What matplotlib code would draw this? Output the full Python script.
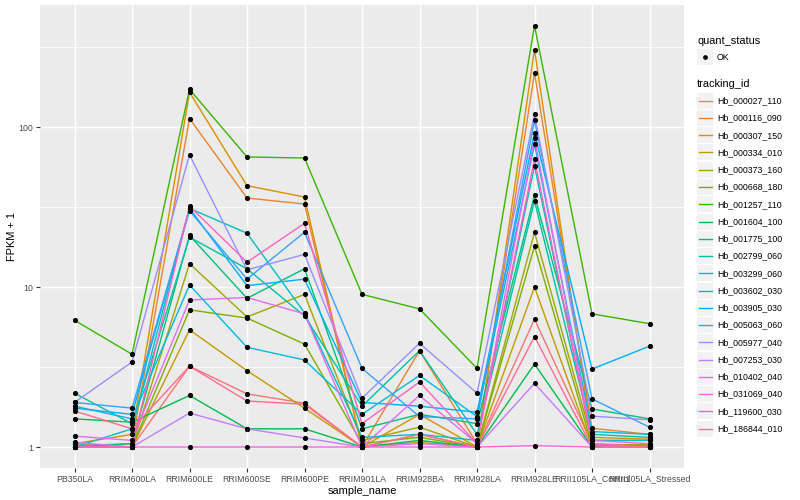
"""FPKM + 1 per sample for a set of tracked genes, ggplot-style line chart."""

import numpy as np
import matplotlib.pyplot as plt
from matplotlib.patches import Rectangle
from matplotlib.lines import Line2D

plt.rcParams["font.family"] = ["Liberation Sans", "DejaVu Sans"]

W, H = 800, 500
PANEL_BG = "#EBEBEB"
KEY_BG = "#F2F2F2"

samples = ["PB350LA", "RRIM600LA", "RRIM600LE", "RRIM600SE", "RRIM600PE",
           "RRIM901LA", "RRIM928BA", "RRIM928LA", "RRIM928LE",
           "RRII105LA_Control", "RRII105LA_Stressed"]

tracking_ids = ["Hb_000027_110", "Hb_000116_090", "Hb_000307_150", "Hb_000334_010",
                "Hb_000373_160", "Hb_000668_180", "Hb_001257_110", "Hb_001604_100",
                "Hb_001775_100", "Hb_002799_060", "Hb_003299_060", "Hb_003602_030",
                "Hb_003905_030", "Hb_005063_060", "Hb_005977_040", "Hb_007253_030",
                "Hb_010402_040", "Hb_031069_040", "Hb_119600_030", "Hb_186844_010"]

# ggplot default hue palette for 20 levels
colours = ["#F8766D", "#EA8331", "#D89000", "#C09B00", "#A3A500", "#7CAE00", "#39B600",
           "#00BB4E", "#00BF7D", "#00C1A3", "#00BFC4", "#00BAE0", "#00B0F6", "#35A2FF",
           "#9590FF", "#C77CFF", "#E76BF3", "#FA62DB", "#FF62BC", "#FF6C91"]

# FPKM + 1, one row per tracking_id, one column per sample
fpkm_plus_one = [
    [1.05, 1.00, 3.2, 2.15, 1.88, 1.00, 1.20, 1.00, 6.3, 1.05, 1.02],
    [1.02, 1.05, 113, 36.0, 33.0, 1.00, 4.00, 1.05, 218, 1.31, 1.20],
    [1.05, 1.20, 165, 43.0, 36.5, 1.00, 1.60, 1.00, 305, 1.15, 1.12],
    [1.00, 1.00, 5.4, 3.00, 1.75, 1.00, 1.07, 1.00, 10.0, 1.00, 1.05],
    [1.00, 1.00, 14.0, 6.5, 9.0, 1.10, 1.33, 1.00, 22.0, 1.10, 1.10],
    [1.00, 1.00, 7.2, 6.4, 4.4, 1.05, 1.15, 1.00, 18.0, 1.02, 1.03],
    [6.2, 3.8, 172, 65.0, 64.0, 9.0, 7.3, 3.1, 430, 6.8, 5.9],
    [1.50, 1.43, 2.1, 1.30, 1.30, 1.00, 1.10, 1.00, 3.3, 1.00, 1.00],
    [1.00, 1.05, 21.0, 8.5, 13.0, 1.30, 1.60, 1.40, 37.5, 1.73, 1.50],
    [2.17, 1.40, 20.5, 13.0, 6.6, 1.80, 4.00, 1.20, 34.5, 1.20, 1.15],
    [1.00, 1.30, 31.0, 21.7, 6.9, 1.15, 1.20, 1.10, 57.0, 1.10, 1.10],
    [1.80, 1.50, 10.3, 4.2, 3.5, 1.60, 2.80, 1.55, 78.0, 1.25, 1.20],
    [1.75, 1.60, 31.0, 10.2, 11.2, 1.90, 1.80, 1.65, 92.0, 3.07, 4.27],
    [1.90, 1.75, 30.0, 11.2, 22.0, 3.10, 1.55, 1.50, 110, 2.00, 1.33],
    [1.90, 3.40, 67.0, 12.8, 16.0, 2.02, 4.45, 2.17, 120, 1.56, 1.48],
    [1.07, 1.00, 1.63, 1.30, 1.14, 1.00, 1.05, 1.00, 2.5, 1.00, 1.00],
    [1.17, 1.10, 8.3, 8.6, 6.8, 1.00, 2.10, 1.05, 85.0, 1.10, 1.05],
    [1.00, 1.00, 1.00, 1.00, 1.00, 1.00, 1.00, 1.00, 1.02, 1.00, 1.00],
    [1.00, 1.00, 32.0, 14.3, 25.0, 1.40, 2.55, 1.05, 63.0, 1.05, 1.00],
    [1.68, 1.30, 3.2, 1.94, 1.85, 1.00, 1.20, 1.00, 4.9, 1.00, 1.00],
]

fig = plt.figure(figsize=(W / 100, H / 100), dpi=100)
ax = fig.add_axes([40 / W, 1 - 468 / H, 644 / W, 463 / H])
ax.set_facecolor(PANEL_BG)
for s in ax.spines.values():
    s.set_visible(False)

x = np.arange(len(samples))
for vals, col in zip(fpkm_plus_one, colours):
    ax.plot(x, vals, color=col, lw=1.0, zorder=2)
for vals in fpkm_plus_one:
    ax.plot(x, vals, ls="none", marker="o", ms=2.7, color="black", zorder=3)

ax.set_yscale("log")
ax.set_ylim(10 ** -0.131, 10 ** 2.7625)
ax.set_xlim(-0.6, len(samples) - 0.4)
ax.set_yticks([1, 10, 100])
ax.set_yticklabels(["1", "10", "100"])
ax.set_yticks([10 ** 0.5, 10 ** 1.5, 10 ** 2.5], minor=True)
ax.set_xticks(x)
ax.set_xticklabels(samples)
ax.tick_params(which="major", length=2.7, width=0.8, color="#333333",
               labelsize=6.3, labelcolor="#4D4D4D", pad=2)
ax.tick_params(which="minor", length=0)
ax.set_axisbelow(True)
ax.grid(which="major", color="white", lw=1.07)
ax.grid(which="minor", axis="y", color="white", lw=0.55)
ax.set_xlabel("sample_name", fontsize=7.9, labelpad=2)
ax.set_ylabel("FPKM + 1", fontsize=7.9, labelpad=1)


# legend drawn by hand in pixel coordinates
def fx(px):
    return px / W


def fy(py):
    return 1 - py / H


fig.text(fx(697), fy(41), "quant_status", fontsize=7.9, va="center", ha="left")
fig.patches.append(Rectangle((fx(697), fy(65)), 16 / W, 16 / H, transform=fig.transFigure,
                             facecolor=KEY_BG, edgecolor="none"))
fig.lines.append(Line2D([fx(705)], [fy(57)], transform=fig.transFigure, marker="o",
                        ms=2.4, color="black", ls="none"))
fig.text(fx(717), fy(57), "OK", fontsize=6.3, va="center", ha="left")

fig.text(fx(697), fy(84), "tracking_id", fontsize=7.9, va="center", ha="left")
for i, (tid, col) in enumerate(zip(tracking_ids, colours)):
    yc = 100.7 + i * 17.26
    fig.patches.append(Rectangle((fx(697), fy(yc + 8)), 16 / W, 16 / H,
                                 transform=fig.transFigure, facecolor=KEY_BG,
                                 edgecolor="none"))
    fig.lines.append(Line2D([fx(698.5), fx(711.5)], [fy(yc), fy(yc)],
                            transform=fig.transFigure, color=col, lw=1.0))
    fig.text(fx(717), fy(yc), tid, fontsize=6.3, va="center", ha="left")

fig.savefig("out.png", dpi=100, facecolor="white")
